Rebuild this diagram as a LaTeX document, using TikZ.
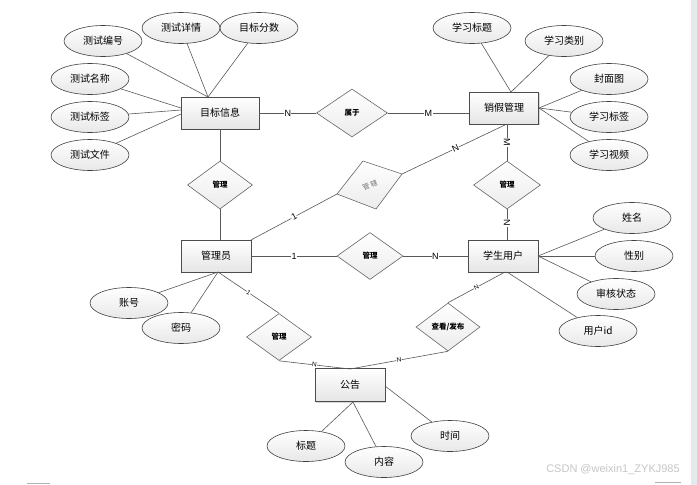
\documentclass[tikz,border=0pt]{standalone}
\usepackage{fontspec}
\setmainfont{Liberation Sans}
\newfontfamily\cjk{Noto Sans CJK SC}
\usetikzlibrary{shapes.geometric,shadows}
\definecolor{strip}{RGB}{228,234,238}
\begin{document}
\begin{tikzpicture}[x=1pt,y=-1pt,
  ent/.style={draw=black!70, line width=0.8pt, minimum width=70pt, minimum height=32pt, inner sep=0pt,
    top color=white, bottom color=gray!20, font=\cjk\fontsize{10}{12}\selectfont,
    drop shadow={opacity=0.3, shadow xshift=1.2pt, shadow yshift=-1.2pt}},
  attr/.style={ellipse, draw=black!75, line width=0.6pt, minimum width=78pt, minimum height=31pt, inner sep=0pt,
    top color=white, bottom color=gray!18, font=\cjk\fontsize{10}{12}\selectfont},
  rel/.style={diamond, draw=black!60, line width=0.6pt, minimum width=66pt, minimum height=48pt, inner sep=0pt,
    top color=white, bottom color=gray!15, font=\cjk\bfseries\fontsize{7.5}{8}\selectfont},
  ln/.style={draw=black!65, line width=0.6pt},
  lab/.style={font=\fontsize{9}{10}\selectfont, fill=white, inner sep=0.4pt},
  labs/.style={font=\fontsize{6.5}{7}\selectfont, fill=white, inner sep=0.3pt}
]
\useasboundingbox (0,0) rectangle (697,485);
\fill[white] (0,0) rectangle (697,485);
\fill[strip] (691,0) rectangle (697,485);
\draw[gray!60, line width=0.6pt] (27,483) -- (50,483);
\draw[gray!60, line width=0.6pt] (655,482) -- (681,482);

% coordinates
\coordinate (mbT) at (208,97);
\coordinate (mbL1) at (181,108);
\coordinate (mbL2) at (181,110);
\coordinate (mbL3) at (181,114);
\coordinate (xjT) at (511,92);
\coordinate (xjR) at (539,108);
\coordinate (xjB) at (507,124);
\coordinate (xsR) at (538,256);
\coordinate (xsB) at (507,272);
\coordinate (xsB2) at (505,272);
\coordinate (glyTR) at (251,240);
\coordinate (glyB) at (218,272);
\coordinate (glyT) at (220,240);
\coordinate (ggT) at (350,369);
\coordinate (ggB) at (353,402);
\coordinate (ggR) at (385,386);

% quadrilateral 管辖
\coordinate (gxT) at (363,161);
\coordinate (gxR) at (402,174);
\coordinate (gxB) at (376,209);
\coordinate (gxL) at (337,194);

% lines first
\draw[ln] (gxL) -- node[lab, sloped, pos=0.5] {1} (glyTR);
\draw[ln] (gxR) -- node[lab, sloped, pos=0.51] {N} (xjB);

% entities
\node[ent, minimum width=78pt] (mb) at (220,113) {目标信息};
\node[ent, minimum width=69pt] (xj) at (504,108) {销假管理};
\node[ent] (gly) at (216,256) {管理员};
\node[ent] (xs) at (503,256) {学生用户};
\node[ent, minimum height=33pt] (gg) at (350,385) {公告};

% relations
\node[rel, minimum width=71pt] (sy) at (352,113) {属于};
\node[rel, minimum width=65pt] (gl1) at (220,185) {管理};
\node[rel, minimum width=67pt] (gl2) at (507,185) {管理};
\node[rel, minimum height=47pt] (gl3) at (370,256) {管理};
\node[rel, minimum width=65pt, minimum height=47pt] (gl4) at (279,337) {管理};
\node[rel, minimum width=64pt] (ck) at (448,327) {查看/发布};

\draw[draw=black!60, line width=0.6pt, top color=white, bottom color=gray!15] (gxT) -- (gxR) -- (gxB) -- (gxL) -- cycle;
\node[font=\cjk\fontsize{7}{8}\selectfont, text=black!55, rotate=22, inner sep=0pt] (gx) at (370,185) {管\hspace{1.2pt}辖};

% attributes of 目标信息
\node[attr] (bh) at (103,41) {测试编号};
\node[attr] (xq) at (181,28) {测试详情};
\node[attr] (fs) at (259,28) {目标分数};
\node[attr] (mc) at (90,79) {测试名称};
\node[attr] (bq) at (90,117) {测试标签};
\node[attr] (wj) at (90,155) {测试文件};
\draw[ln] (bh) -- (mbT);
\draw[ln] (xq) -- (mbT);
\draw[ln] (fs) -- (mbT);
\draw[ln] (mc) -- (mbL1);
\draw[ln] (bq) -- (mbL2);
\draw[ln] (wj) -- (mbL3);

% attributes of 销假管理
\node[attr] (xb) at (472,28) {学习标题};
\node[attr] (xl) at (564,41) {学习类别};
\node[attr] (fm) at (609,79) {封面图};
\node[attr] (xbq) at (609,117) {学习标签};
\node[attr] (sp) at (609,155) {学习视频};
\draw[ln] (xb) -- (xjT);
\draw[ln] (xl) -- (xjT);
\draw[ln] (fm) -- (xjR);
\draw[ln] (xbq) -- (xjR);
\draw[ln] (sp) -- (xjR);

% attributes of 学生用户
\node[attr] (xm) at (632,218) {姓名};
\node[attr] (xbie) at (634,256) {性别};
\node[attr] (sh) at (616,294) {审核状态};
\node[attr] (id) at (598,331) {用户id};
\draw[ln] (xm) -- (xsR);
\draw[ln] (xbie) -- (xsR);
\draw[ln] (sh) -- (xsR);
\draw[ln] (id) -- (xsB);

% attributes of 管理员
\node[attr] (zh) at (129,303) {账号};
\node[attr] (mm) at (181,328) {密码};
\draw[ln] (zh) -- (glyB);
\draw[ln] (mm) -- (glyB);

% attributes of 公告
\node[attr] (bt) at (306,446) {标题};
\node[attr] (nr) at (384,462) {内容};
\node[attr] (sj) at (450,436) {时间};
\draw[ln] (bt) -- (ggB);
\draw[ln] (nr) -- (ggB);
\draw[ln] (sj) -- (ggR);

% relationship connectors
\draw[ln] (mb.east) -- node[lab] {N} (sy.west);
\draw[ln] (sy.east) -- node[lab, pos=0.5] {M} (sy.east -| xj.west);
\draw[ln] (mb.south) -- (gl1.north);
\draw[ln] (gl1.south) -- (glyT);
\draw[ln] (xjB) -- node[lab, sloped] {M} (gl2.north);
\draw[ln] (gl2.south) -- node[lab, sloped, pos=0.45] {N} (gl2.south |- xs.north);
\draw[ln] (gly.east) -- node[lab, pos=0.5] {1} (gl3.west);
\draw[ln] (gl3.east) -- node[lab, pos=0.5] {N} (xs.west);
\draw[ln] (glyB) -- node[labs, sloped, pos=0.5] {1} (gl4.north);
\draw[ln] (xsB2) -- node[labs, sloped, pos=0.5] {N} (ck.north);
\draw[ln] (gl4.south) -- node[labs, sloped, pos=0.5] {N} (ggT);
\draw[ln] (ck.south) -- node[labs, sloped, pos=0.5] {N} (ggT);

% watermark
\node[font=\fontsize{11}{12}\selectfont, text=gray!45] (wm) at (613,470) {CSDN @weixin1\_ZYKJ985};
\end{tikzpicture}
\end{document}
